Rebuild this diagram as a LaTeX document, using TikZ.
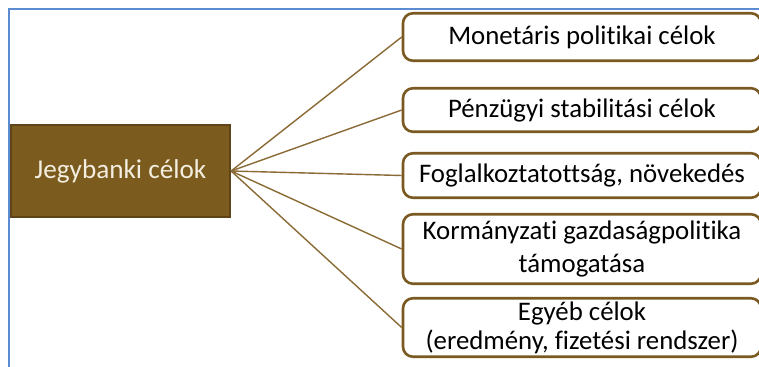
\documentclass[tikz,border=0pt]{standalone}
\usepackage{fontspec}
\setmainfont{Carlito}[Ligatures={NoCommon}]
\definecolor{brownfill}{HTML}{7C5B1F}
\definecolor{browndark}{HTML}{5E4416}
\definecolor{brownline}{HTML}{7A5A22}
\definecolor{conncol}{HTML}{8A6A35}
\definecolor{framecol}{HTML}{5B8BD0}
\definecolor{lighttext}{HTML}{F3EEDF}
\begin{document}
\begin{tikzpicture}[x=1bp,y=-1bp,
  framestyle/.style={draw=framecol,line width=2.2bp},
  rootbox/.style={draw=browndark,fill=brownfill,line width=2.2bp,minimum width=219bp,minimum height=92bp,inner sep=0pt,text=lighttext,font=\fontsize{27.2bp}{30bp}\selectfont},
  goalbox/.style={draw=brownline,fill=white,line width=2.6bp,rounded corners=10bp,minimum width=358bp,inner sep=0pt,align=center,text=black,font=\fontsize{26.8bp}{29bp}\selectfont},
  conn/.style={draw=conncol,line width=1.4bp}]
\useasboundingbox (0,0) rectangle (759,366);
\clip (0,0) rectangle (759,366);
\fill[white] (0,0) rectangle (759,366);
\draw[framestyle] (9,370) -- (9,9) -- (765,9);
\node[rootbox] (root) at (120.5,171) {Jegybanki célok};
\node[goalbox,minimum height=47.5bp] (g1) at (582,37) {Monetáris politikai célok};
\node[goalbox,minimum height=43.5bp] (g2) at (582,110) {Pénzügyi stabilitási célok};
\node[goalbox,minimum height=44.5bp] (g3) at (582,175.5) {Foglalkoztatottság, növekedés};
\node[goalbox,minimum height=69.5bp] (g4) at (582,249) {Kormányzati gazdaságpolitika\\[4bp]támogatása};
\node[goalbox,minimum height=58.5bp] (g5) at (582,327.5) {Egyéb célok\\(eredmény, fizetési rendszer)};
\foreach \g in {g1,g2,g3,g4,g5}{\draw[conn] (root.east) -- (\g.west);}
\end{tikzpicture}
\end{document}
